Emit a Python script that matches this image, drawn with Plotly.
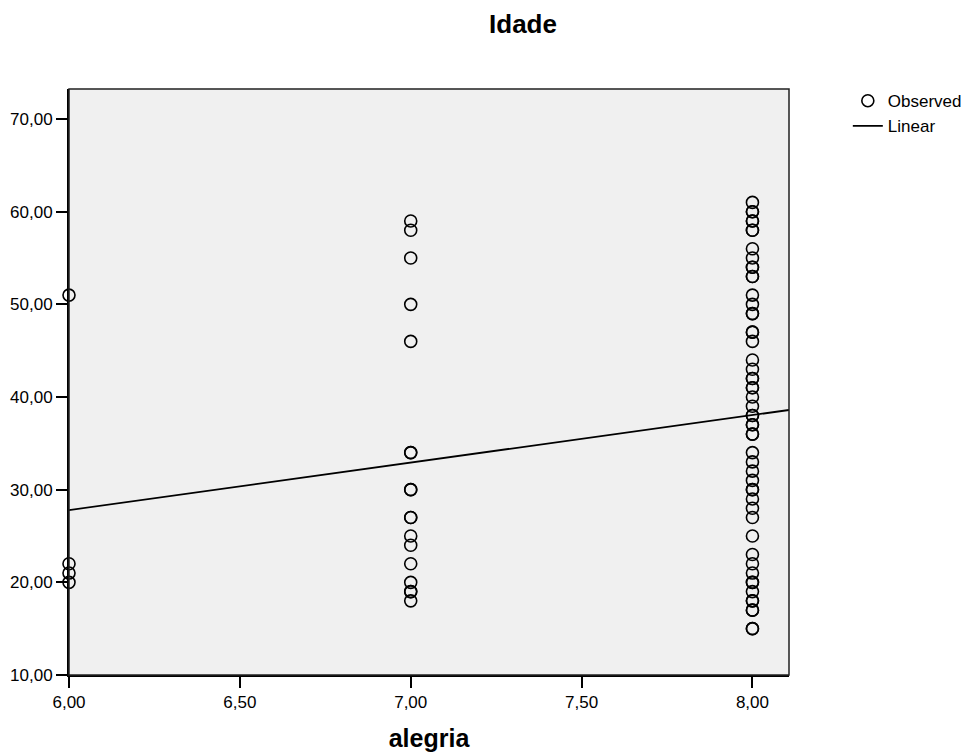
import plotly.graph_objects as go

# Observed data: alegria (x) vs Idade (y)
alegria_6 = [51, 22, 21, 20]
alegria_7 = [59, 58, 55, 50, 46, 34, 34, 30, 30, 27, 27, 25, 24, 22, 20, 19, 19, 18]
alegria_8 = [61, 60, 60, 59, 59, 58, 58, 56, 55, 54, 54, 53, 53, 51, 50, 49, 49, 47, 47, 46,
             44, 43, 42, 42, 41, 41, 40, 39, 38, 38, 37, 37, 36, 36, 34, 33, 32, 31, 30, 30,
             29, 28, 27, 25, 23, 22, 21, 20, 20, 19, 18, 18, 17, 17, 15, 15]

# Linear fit line (endpoints across the plot range)
fit_x = [6.0, 8.107]
fit_y = [27.8, 38.6]

x_ticks = [6.0, 6.5, 7.0, 7.5, 8.0]
x_ticklabels = ["6,00", "6,50", "7,00", "7,50", "8,00"]
y_ticks = [10, 20, 30, 40, 50, 60, 70]
y_ticklabels = ["10,00", "20,00", "30,00", "40,00", "50,00", "60,00", "70,00"]

obs_x = [6.0] * len(alegria_6) + [7.0] * len(alegria_7) + [8.0] * len(alegria_8)
obs_y = alegria_6 + alegria_7 + alegria_8

FONT = "Liberation Sans, Arial, sans-serif"

# page has an 8px body margin, so the figure is sized/offset to compensate
W, H = 971, 748

fig = go.Figure()
fig.add_trace(go.Scatter(
    x=obs_x, y=obs_y, mode="markers", name="Observed",
    marker=dict(symbol="circle-open", size=12, color="black", line=dict(width=1.6, color="black")),
    cliponaxis=False,
))
fig.add_trace(go.Scatter(
    x=fit_x, y=fit_y, mode="lines", name="Linear",
    line=dict(color="black", width=1.8),
))

fig.update_layout(
    width=W, height=H,
    margin=dict(l=61, r=188, t=81, b=81),
    paper_bgcolor="white",
    plot_bgcolor="#F0F0F0",
    font=dict(family=FONT, size=17, color="black"),
    title=dict(text="<b>Idade</b>", x=515 / W, xanchor="center", y=1 - 16 / H, yanchor="middle",
               font=dict(size=26, family=FONT, color="black")),
    showlegend=True,
    legend=dict(x=1.0817, xanchor="left", y=1.01, yanchor="top", bgcolor="rgba(0,0,0,0)",
                font=dict(size=17, family=FONT), tracegroupgap=0, itemwidth=30,
                borderwidth=0),
    xaxis=dict(range=[6.0, 8.107], tickvals=x_ticks, ticktext=x_ticklabels,
               showgrid=False, zeroline=False, showline=True, linecolor="black", linewidth=2,
               ticks="outside", ticklen=11, tickwidth=2, tickcolor="black",
               tickfont=dict(size=17, family=FONT), automargin=False,
               title=dict(text="<b>alegria</b>", font=dict(size=25, family=FONT), standoff=18)),
    yaxis=dict(range=[10, 73.24], tickvals=y_ticks, ticktext=y_ticklabels,
               showgrid=False, zeroline=False, showline=True, linecolor="black", linewidth=2,
               ticks="outside", ticklen=11, tickwidth=2, tickcolor="black",
               tickfont=dict(size=17, family=FONT), automargin=False),
)

# Thin frame on top and right of the plot area
fig.add_shape(type="rect", xref="paper", yref="paper", x0=0, y0=0, x1=1, y1=1,
              line=dict(color="#202020", width=1.5), layer="above")

fig.write_html("out.html")
